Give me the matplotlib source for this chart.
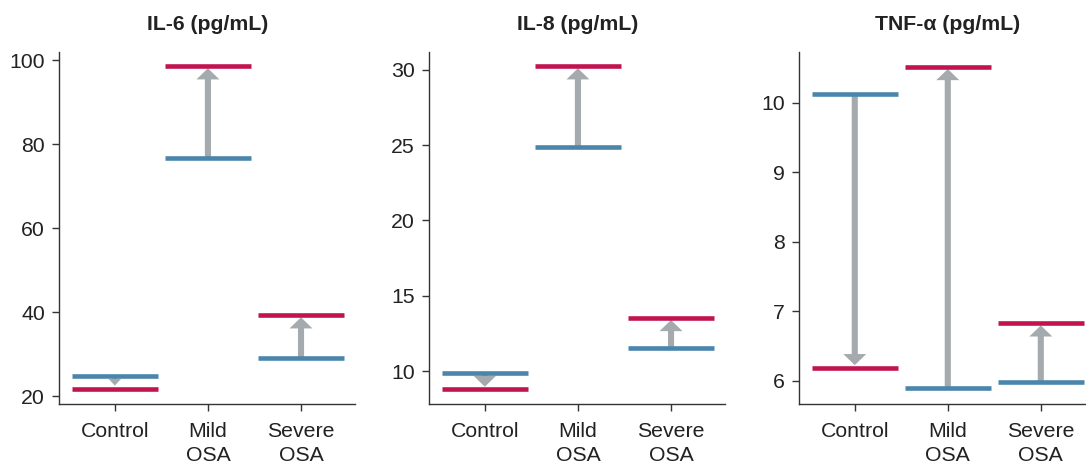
import matplotlib
matplotlib.use("Agg")
import matplotlib.pyplot as plt
from matplotlib.patches import FancyArrowPatch, ArrowStyle

plt.rcParams['font.family'] = ['Liberation Sans', 'DejaVu Sans']

categories = ["Control", "Mild\nOSA", "Severe\nOSA"]
titles = ["IL-6 (pg/mL)", "IL-8 (pg/mL)", "TNF-\u03b1 (pg/mL)"]

il6_before = [24.8, 76.7, 29.0]
il6_after = [21.7, 98.6, 39.3]
il8_before = [9.87, 24.87, 11.51]
il8_after = [8.80, 30.25, 13.54]
tnf_before = [10.12, 5.89, 5.98]
tnf_after = [6.19, 10.52, 6.83]

yticks_list = [[20, 40, 60, 80, 100], [10, 15, 20, 25, 30], [6, 7, 8, 9, 10]]
ylims = [(18.1, 101.9), (7.81, 31.17), (5.665, 10.73)]

BLUE = "#4a86ab"
RED = "#c0134f"
GREY = "#a4aaad"
SPINE = "#333333"
FS = 15.3

DPI = 100
fig = plt.figure(figsize=(10.86, 4.65), dpi=DPI)
positions = [
    (0.0543, 0.1312, 0.3269 - 0.0543, 0.888 - 0.1312),
    (0.3950, 0.1312, 0.6676 - 0.3950, 0.888 - 0.1312),
    (0.7357, 0.1312, 1.0 - 0.7357, 0.888 - 0.1312),
]
xlims = [(-0.6, 2.58), (-0.6, 2.58), (-0.6, 2.486)]

data = [(il6_before, il6_after), (il8_before, il8_after), (tnf_before, tnf_after)]

for i, (pos, (before, after)) in enumerate(zip(positions, data)):
    ax = fig.add_axes(pos)
    ax.set_xlim(*xlims[i])
    ax.set_ylim(*ylims[i])
    for s in ["top", "right"]:
        ax.spines[s].set_visible(False)
    for s in ["left", "bottom"]:
        ax.spines[s].set_color(SPINE)
        ax.spines[s].set_linewidth(1.0)
    ax.set_xticks(range(len(categories)))
    ax.set_xticklabels(categories, fontsize=FS, color="#222222", linespacing=1.3)
    ax.set_yticks(yticks_list[i])
    ax.set_yticklabels([str(t) for t in yticks_list[i]], fontsize=FS, color="#222222")
    ax.tick_params(axis="both", direction="out", length=5, width=1.0, color=SPINE)
    ax.tick_params(axis="y", pad=5)
    ax.tick_params(axis="x", pad=8)

    hw = 0.46
    for j, (b, a) in enumerate(zip(before, after)):
        ax.hlines(b, j - hw, j + hw, color=BLUE, lw=3.3, zorder=3)
        ax.hlines(a, j - hw, j + hw, color=RED, lw=3.3, zorder=3)

    fig.canvas.draw()
    for j, (b, a) in enumerate(zip(before, after)):
        p0 = ax.transData.transform((j, b))
        p1 = ax.transData.transform((j, a))
        length_pt = abs(p1[1] - p0[1]) * 72 / DPI - 1.7
        hl, hwid, tw = 8.0, 16.5, 4.4
        shrink = 1.7
        if length_pt < hl + 1:
            scale = max(length_pt, 2) / (hl + 1)
            hl = hl * scale * 0.7
            hwid = 9.0
            tw = 3.6
            shrink = 2.4
        style = ArrowStyle("simple", head_length=hl, head_width=hwid, tail_width=tw)
        arr = FancyArrowPatch((j, b), (j, a), arrowstyle=style, color=GREY,
                              shrinkA=0, shrinkB=shrink, mutation_scale=1, zorder=2,
                              lw=0)
        ax.add_patch(arr)

    ax.text(1, 1.077, titles[i], transform=ax.get_xaxis_transform(), ha="center",
            va="center", fontsize=FS, fontweight="bold", color="#222222")

fig.savefig("out.png", dpi=DPI)
